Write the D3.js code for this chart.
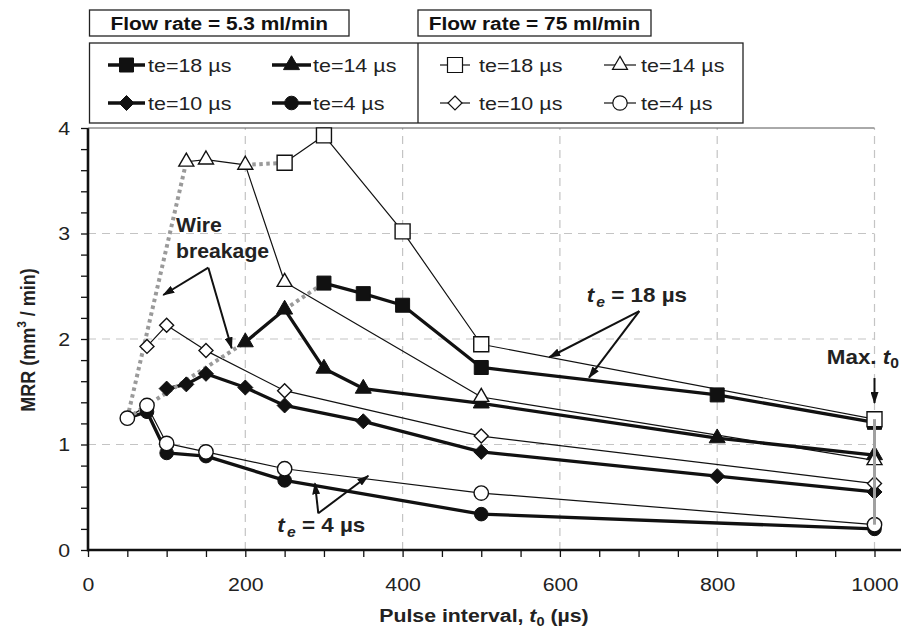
<!DOCTYPE html>
<html><head><meta charset="utf-8">
<script src="https://cdn.jsdelivr.net/npm/d3@7"></script>
<style>
body{margin:0;background:#fff;}
svg{display:block;font-family:"Liberation Sans",Arial,Helvetica,sans-serif;}
</style></head><body>
<svg id="chart" width="901" height="631"></svg>
<script>
// ---------- data ----------
const xTicks = [0,200,400,600,800,1000];
const yTicks = [0,1,2,3,4];
const legendLabels = ["te=18 µs","te=14 µs","te=10 µs","te=4 µs"];
const flowLabels = ["Flow rate = 5.3 ml/min","Flow rate = 75 ml/min"];

// Flow rate = 5.3 ml/min (filled markers)
const xF18 = [300,350,400,500,800,1000];
const yF18 = [2.53,2.43,2.32,1.73,1.47,1.21];
const xF14 = [200,250,300,350,500,800,1000];
const yF14 = [1.97,2.28,1.72,1.53,1.39,1.06,0.90];
const xF10 = [100,125,150,200,250,350,500,800,1000];
const yF10 = [1.53,1.57,1.67,1.54,1.37,1.22,0.93,0.70,0.55];
const xF4  = [50,75,100,150,250,500,1000];
const yF4  = [1.25,1.31,0.92,0.89,0.66,0.34,0.20];

// Flow rate = 75 ml/min (open markers)
const xO18 = [250,300,400,500,1000];
const yO18 = [3.67,3.93,3.02,1.95,1.24];
const xO14 = [125,150,200,250,500,1000];
const yO14 = [3.68,3.70,3.65,2.54,1.45,0.85];
const xO10 = [75,100,150,250,500,1000];
const yO10 = [1.93,2.13,1.89,1.51,1.08,0.63];
const xO4  = [50,75,100,150,250,500,1000];
const yO4  = [1.25,1.37,1.01,0.93,0.77,0.54,0.24];

// wire breakage connectors (grey dotted)
const breakFromX = [50,50,200,250];
const breakFromY = [1.25,1.25,3.65,2.28];
const breakToX   = [125,200,250,300];
const breakToY   = [3.68,1.97,3.67,2.53];

// max t0 grey bar
const maxT0X = 1000, maxT0Top = 1.24, maxT0Bottom = 0.24;

// ---------- layout ----------
const SX = 1.12; // horizontal stretch of the text in the original figure
const svg = d3.select("#chart");
const x = d3.scaleLinear().domain([0,1000]).range([88,874.5]);
const y = d3.scaleLinear().domain([0,4]).range([550,128]);

const zip = (xs,ys)=>xs.map((v,i)=>[v,ys[i]]);
const series = [
  {pts:zip(xF18,yF18), shape:"square",  filled:true},
  {pts:zip(xF14,yF14), shape:"triangle",filled:true},
  {pts:zip(xF10,yF10), shape:"diamond", filled:true},
  {pts:zip(xF4,yF4),   shape:"circle",  filled:true},
  {pts:zip(xO18,yO18), shape:"square",  filled:false},
  {pts:zip(xO14,yO14), shape:"triangle",filled:false},
  {pts:zip(xO10,yO10), shape:"diamond", filled:false},
  {pts:zip(xO4,yO4),   shape:"circle",  filled:false}
];

function markerPath(shape, filled){
  if(shape==="square"){ const h = filled?7:7.5; return `M${-h},${-h}H${h}V${h}H${-h}Z`; }
  if(shape==="triangle"){ const a = filled?16:15; const hgt=a*Math.sqrt(3)/2; return `M0,${-hgt*2/3}L${a/2},${hgt/3}L${-a/2},${hgt/3}Z`; }
  if(shape==="diamond"){ const h = filled?7.5:7; return `M0,${-h}L${h},0L0,${h}L${-h},0Z`; }
  const r = filled?6.8:7.2;
  return `M${r},0A${r},${r} 0 1,1 ${-r},0A${r},${r} 0 1,1 ${r},0Z`;
}
function txt(g, px, py, anchor, sx){
  return g.append("text").attr("transform",`translate(${px},${py}) scale(${sx||SX},1)`)
    .attr("text-anchor",anchor||"start");
}

// gridlines
const grid = svg.append("g");
grid.selectAll("line.v").data(xTicks.filter(d=>d>0)).join("line")
  .attr("x1",d=>x(d)).attr("x2",d=>x(d)).attr("y1",y(0)).attr("y2",y(4))
  .attr("stroke","#c4c4c4").attr("stroke-width",1.2).attr("stroke-dasharray","8,6");
grid.selectAll("line.h").data(yTicks.filter(d=>d>0&&d<4)).join("line")
  .attr("x1",x(0)).attr("x2",x(1000)).attr("y1",d=>y(d)).attr("y2",d=>y(d))
  .attr("stroke","#c4c4c4").attr("stroke-width",1.2).attr("stroke-dasharray","8,6");

// axes
const xMinor = d3.range(0,1001,50);
const yMinor = d3.range(0,4.001,0.2);
const gx = svg.append("g").attr("transform",`translate(0,${y(0)})`)
  .call(d3.axisBottom(x).tickValues(xMinor).tickSize(7).tickSizeOuter(0).tickFormat(""));
gx.select(".domain").remove();
gx.selectAll("line").attr("stroke","#111").attr("stroke-width",1.3);
const gxl = svg.append("g").attr("transform",`translate(0,${y(0)})`)
  .call(d3.axisBottom(x).tickValues(xTicks).tickSize(0).tickPadding(28).tickFormat(d3.format("d")));
gxl.select(".domain").remove();
gxl.selectAll("text").attr("font-size",19).attr("fill","#222").attr("transform",`scale(${SX},1)`)
  .attr("font-family","'Liberation Sans',Arial,sans-serif");
svg.append("line").attr("x1",x(0)-1).attr("x2",901).attr("y1",y(0)).attr("y2",y(0))
  .attr("stroke","#111").attr("stroke-width",2.6);

const gy = svg.append("g").attr("transform",`translate(${x(0)},0)`)
  .call(d3.axisLeft(y).tickValues(yMinor).tickSize(7).tickSizeOuter(0).tickFormat(""));
gy.select(".domain").remove();
gy.selectAll("line").attr("stroke","#111").attr("stroke-width",1.3);
const gyl = svg.append("g").attr("transform",`translate(${x(0)},0)`)
  .call(d3.axisLeft(y).tickValues(yTicks).tickSize(0).tickPadding(16).tickFormat(d3.format("d")));
gyl.select(".domain").remove();
gyl.selectAll("text").attr("font-size",19).attr("fill","#222").attr("transform",`scale(${SX},1)`)
  .attr("font-family","'Liberation Sans',Arial,sans-serif");
svg.append("line").attr("x1",x(0)).attr("x2",x(0)).attr("y1",y(4)).attr("y2",y(0)+1.3)
  .attr("stroke","#111").attr("stroke-width",2.6);
// top border of plot
svg.append("line").attr("x1",x(0)).attr("x2",x(1000)).attr("y1",y(4)).attr("y2",y(4))
  .attr("stroke","#555").attr("stroke-width",1);

// series lines
const line = d3.line().x(d=>x(d[0])).y(d=>y(d[1]));
const plot = svg.append("g");
series.forEach(s=>{
  plot.append("path").attr("d",line(s.pts)).attr("fill","none")
    .attr("stroke","#111").attr("stroke-width",s.filled?3.3:1.2).attr("stroke-linejoin","round");
});

// wire-breakage dotted connectors
breakFromX.forEach((v,i)=>{
  plot.append("line").attr("x1",x(v)).attr("y1",y(breakFromY[i]))
    .attr("x2",x(breakToX[i])).attr("y2",y(breakToY[i]))
    .attr("stroke","#9a9a9a").attr("stroke-width",4).attr("stroke-dasharray","3.5,3.5");
});

// markers
series.forEach(s=>{
  plot.selectAll(null).data(s.pts).join("path")
    .attr("transform",d=>`translate(${x(d[0])},${y(d[1])})`)
    .attr("d",markerPath(s.shape,s.filled))
    .attr("fill",s.filled?"#111":"#fff").attr("stroke","#111").attr("stroke-width",s.filled?1:1.4);
});

// Max t0 grey bar
svg.append("line").attr("x1",x(maxT0X)).attr("x2",x(maxT0X)).attr("y1",y(maxT0Top)).attr("y2",y(maxT0Bottom))
  .attr("stroke","#a0a0a0").attr("stroke-width",3);

// arrowhead marker
svg.append("defs").append("marker").attr("id","ah").attr("viewBox","0 0 12 8")
  .attr("refX",11).attr("refY",4).attr("markerWidth",12).attr("markerHeight",8)
  .attr("markerUnits","userSpaceOnUse").attr("orient","auto")
  .append("path").attr("d","M0,0L12,4L0,8Z").attr("fill","#111");

function arrow(x1,y1,x2,y2){
  svg.append("line").attr("x1",x(x1)).attr("y1",y(y1)).attr("x2",x(x2)).attr("y2",y(y2))
    .attr("stroke","#111").attr("stroke-width",2).attr("marker-end","url(#ah)");
}
const ann = svg.append("g").attr("font-weight","bold").attr("fill","#222").attr("font-size",20);

// Wire breakage
txt(ann, x(112), y(3.017), "start", 1.06).text("Wire");
txt(ann, x(112), y(2.768), "start", 1.06).text("breakage");
arrow(153,2.676,95.7,2.417);
arrow(153,2.676,182.7,1.912);

// te = 18 µs
const t18 = txt(ann, x(634), y(2.353), "start");
t18.append("tspan").attr("font-style","italic").text("t");
t18.append("tspan").attr("font-style","italic").attr("font-size",14).attr("dy",5).attr("dx",2).text("e");
t18.append("tspan").attr("dy",-5).text(" = 18 µs");
arrow(701,2.265,586.5,1.827);
arrow(701,2.265,637,1.633);

// te = 4 µs
const t4 = txt(ann, x(240.7), y(0.173), "start");
t4.append("tspan").attr("font-style","italic").text("t");
t4.append("tspan").attr("font-style","italic").attr("font-size",14).attr("dy",5).attr("dx",2).text("e");
t4.append("tspan").attr("dy",-5).text(" = 4 µs");
arrow(292.8,0.348,288.6,0.632);
arrow(292.8,0.348,356.4,0.704);

// Max. t0
const mt = txt(ann, 899, y(1.76), "end");
mt.append("tspan").text("Max. ");
mt.append("tspan").attr("font-style","italic").text("t");
mt.append("tspan").attr("font-size",14).attr("dy",4).text("0");
arrow(1000,1.63,1000,1.393);

// axis titles
const xt = txt(svg, 484, 622, "middle").attr("font-weight","bold").attr("font-size",19).attr("fill","#222");
xt.append("tspan").text("Pulse interval, ");
xt.append("tspan").attr("font-style","italic").text("t");
xt.append("tspan").attr("font-size",13).attr("dy",4).text("0");
xt.append("tspan").attr("dy",-4).text(" (µs)");

const yt = svg.append("text").attr("transform","translate(35,340) rotate(-90) scale(1,1.1)").attr("text-anchor","middle")
  .attr("font-weight","bold").attr("font-size",18).attr("fill","#222");
yt.append("tspan").text("MRR (mm");
yt.append("tspan").attr("font-size",12).attr("dy",-8).text("3");
yt.append("tspan").attr("dy",8).text(" / min)");

// ---------- legend ----------
const lg = svg.append("g");
const hdr = [[89.5,349],[418,651]];
hdr.forEach((h,i)=>{
  lg.append("rect").attr("x",h[0]).attr("y",10).attr("width",h[1]-h[0]).attr("height",26)
    .attr("fill","#fff").attr("stroke","#222").attr("stroke-width",1.3);
  txt(lg, (h[0]+h[1])/2, 30, "middle", 1.16)
    .attr("font-weight","bold").attr("font-size",18).attr("fill","#111").text(flowLabels[i]);
});
lg.append("rect").attr("x",89.5).attr("y",43).attr("width",743-89.5).attr("height",80)
  .attr("fill","#fff").attr("stroke","#222").attr("stroke-width",1.3);
lg.append("line").attr("x1",418).attr("x2",418).attr("y1",43).attr("y2",123).attr("stroke","#222").attr("stroke-width",1.3);

const colX = [[108,145,148],[272,311,313],[440,470,479],[604,636,641]];
const rowY = [65,103];
const shapes = ["square","triangle","diamond","circle"];
for(let f=0; f<2; f++){
  shapes.forEach((sh,k)=>{
    const c = colX[f*2 + (k%2)];
    const ry = rowY[Math.floor(k/2)];
    lg.append("line").attr("x1",c[0]).attr("x2",c[1]).attr("y1",ry).attr("y2",ry)
      .attr("stroke","#111").attr("stroke-width",f===0?3.3:1.2);
    lg.append("path").attr("transform",`translate(${(c[0]+c[1])/2},${ry})`)
      .attr("d",markerPath(sh,f===0)).attr("fill",f===0?"#111":"#fff").attr("stroke","#111").attr("stroke-width",f===0?1:1.2);
    txt(lg, c[2], ry+7, "start", 1.13).attr("font-size",19).attr("fill","#222").text(legendLabels[k]);
  });
}
</script>
</body></html>
